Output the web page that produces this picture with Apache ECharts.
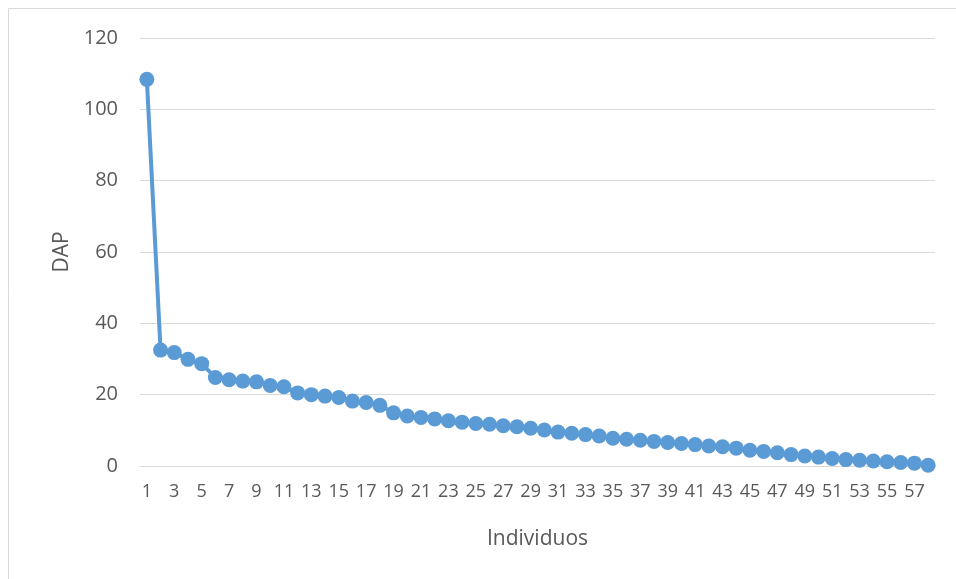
<!DOCTYPE html>
<html>
<head>
<meta charset="utf-8">
<script src="https://cdn.jsdelivr.net/npm/echarts@6/dist/echarts.min.js"></script>
<style>
  html, body { margin: 0; padding: 0; background: #fff; }
  #chart { width: 956px; height: 579px; }
</style>
</head>
<body>
<div id="chart"></div>
<script>
// individuos 1..58
const individuos = []
for (let i = 1; i <= 58; i++) individuos.push(String(i))

const dap = [
  108.4, 32.5, 31.8, 29.9, 28.7, 24.8, 24.2, 23.8, 23.6, 22.6,
  22.2, 20.5, 20.0, 19.6, 19.2, 18.2, 17.8, 17.0, 14.9, 14.0,
  13.6, 13.2, 12.7, 12.3, 11.9, 11.7, 11.3, 11.0, 10.6, 10.1,
  9.5, 9.2, 8.8, 8.4, 7.8, 7.5, 7.2, 6.9, 6.6, 6.3,
  6.0, 5.6, 5.4, 5.0, 4.4, 4.1, 3.7, 3.2, 2.8, 2.5,
  2.1, 1.8, 1.6, 1.4, 1.2, 1.0, 0.8, 0.2
]

const labelFont = '"Open Sans", "Liberation Sans", sans-serif'
const textColor = '#595959'

let chart = echarts.init(document.getElementById('chart'))
let option = {
  animation: false,
  graphic: [
    {
      type: 'rect',
      shape: { x: 8.5, y: 8.5, width: 1000, height: 700 },
      style: { fill: 'none', stroke: '#d9d9d9', lineWidth: 1 }
    }
  ],
  grid: {
    left: 140,
    right: 21,
    top: 38,
    bottom: 113
  },
  xAxis: {
    type: 'category',
    data: individuos,
    boundaryGap: true,
    name: 'Individuos',
    nameLocation: 'middle',
    nameGap: 63,
    nameTextStyle: { color: textColor, fontSize: 21, fontFamily: labelFont },
    axisLine: { show: true, lineStyle: { color: '#d9d9d9', width: 1 } },
    axisTick: { show: false },
    axisLabel: {
      interval: 1,
      color: textColor,
      fontSize: 18,
      fontFamily: labelFont,
      margin: 17
    }
  },
  yAxis: {
    type: 'value',
    min: 0,
    max: 120,
    interval: 20,
    name: 'DAP',
    nameLocation: 'middle',
    nameGap: 66,
    nameTextStyle: { color: textColor, fontSize: 21, fontFamily: labelFont },
    axisLine: { show: false },
    axisTick: { show: false },
    axisLabel: {
      color: textColor,
      fontSize: 20,
      fontFamily: labelFont,
      margin: 22
    },
    splitLine: { lineStyle: { color: '#d9d9d9', width: 1 } }
  },
  series: [
    {
      type: 'line',
      data: dap,
      symbol: 'circle',
      symbolSize: 15,
      showAllSymbol: true,
      lineStyle: { color: '#5b9bd5', width: 4 },
      itemStyle: { color: '#5b9bd5' }
    }
  ]
}
chart.setOption(option)
</script>
</body>
</html>
